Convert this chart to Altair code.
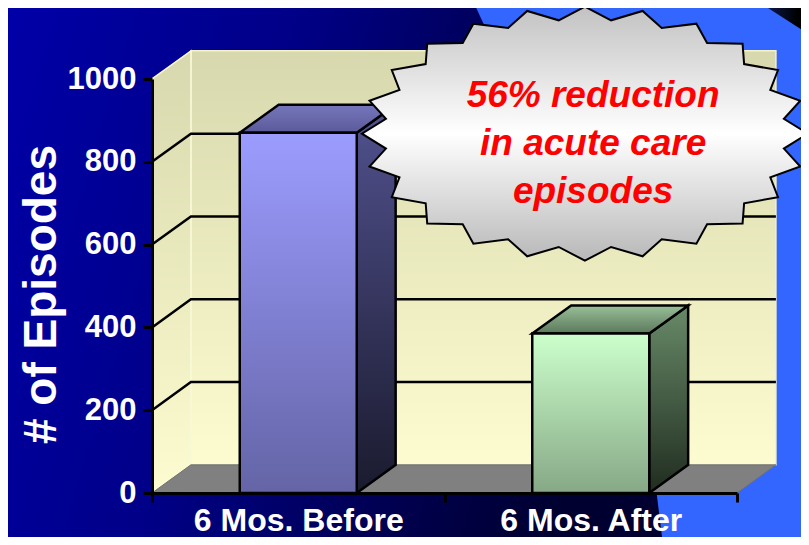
import math
import altair as alt
import pandas as pd

# ---------------- data ----------------
categories = ["6 Mos. Before", "6 Mos. After"]
episodes = [870, 385]
y_ticks = [0, 200, 400, 600, 800, 1000]
grid_values = [200, 400, 600, 800]
callout_lines = ["56% reduction", "in acute care", "episodes"]

# ---------------- geometry (data units) ----------------
X_MAX = 2.0          # two category slots on a 0..2 axis
Y_MAX = 1000
DX = 0.133           # 3-D depth along x (category units)
DY = 68              # 3-D depth along y (value units)
HALF = 0.2           # half bar width
centers = [i + 0.5 for i in range(len(categories))]

FONT = "Liberation Sans"
xs = alt.Scale(domain=[0, X_MAX], nice=False, zero=False)
ys = alt.Scale(domain=[0, Y_MAX], nice=False, zero=True)

label_expr = " : ".join(
    f"datum.value == {c} ? '{n}'" for c, n in zip(centers, categories)
) + " : ''"
hide_test = " || ".join(f"datum.value == {c}" for c in centers)

x_axis = alt.Axis(
    values=[0] + centers + [1, 2],
    labelExpr=label_expr, title=None, grid=False,
    labelColor="white", labelFont=FONT, labelFontSize=32, labelFontWeight="bold",
    labelBaseline="alphabetic", labelPadding=28, labelFlush=False, labelOverlap=False,
    labelLimit=0,
    tickSize=9, tickWidth=3, tickColor="black",
    tickOpacity={"condition": {"test": hide_test, "value": 0}, "value": 1},
    domainColor="black", domainWidth=3, zindex=1,
)
y_axis = alt.Axis(
    values=y_ticks, format="d", title="# of Episodes", grid=False,
    titleColor="white", titleFont=FONT, titleFontSize=46, titleFontWeight="bold",
    titleAngle=270, titleX=-97, titleY=215, titleBaseline="alphabetic", titleAlign="center",
    titleLimit=0,
    labelColor="white", labelFont=FONT, labelFontSize=31, labelFontWeight="bold",
    labelPadding=7, labelFlush=False, labelOverlap=False, labelLimit=0,
    tickSize=9, tickWidth=3, tickColor="black",
    domainColor="black", domainWidth=3, zindex=1,
)


def X(f="x"):
    return alt.X(f, type="quantitative", scale=xs, axis=x_axis)


def Y(f="y"):
    return alt.Y(f, type="quantitative", scale=ys, axis=y_axis)


def grad(c1, c2):
    stops = [alt.GradientStop(color=c1, offset=0), alt.GradientStop(color=c2, offset=1)]
    return alt.LinearGradient(gradient="linear", stops=stops, x1=0, x2=0, y1=0, y2=1)


layers = []

# ---------------- slide background ----------------
bg = alt.Chart(pd.DataFrame({"a": [0]})).mark_rect(
    fill=alt.LinearGradient(gradient="linear", x1=0, y1=0, x2=1, y2=0.2, stops=[
        alt.GradientStop(color="#0000a8", offset=0),
        alt.GradientStop(color="#000088", offset=0.35),
        alt.GradientStop(color="#000050", offset=0.65),
        alt.GradientStop(color="#000030", offset=0.85),
    ])
).encode(x=alt.value(-144), x2=alt.value(649), y=alt.value(-71), y2=alt.value(458))
layers.append(bg)

band = pd.DataFrame({
    "y": [1215, 1075, -5, -170],
    "x": [1.080, 1.172, 1.726, 1.755],
    "x2": [2.4, 2.4, 2.4, 2.4],
})
layers.append(alt.Chart(band).mark_area(orient="horizontal", fill="#3366ff")
              .encode(y=Y(), x=X(), x2="x2"))

corner = pd.DataFrame({"y": [1215, 1088], "x": [2.010, 2.290], "x2": [2.45, 2.45]})
layers.append(alt.Chart(corner).mark_area(
    orient="horizontal",
    fill=alt.LinearGradient(gradient="linear", x1=0, x2=1, y1=0, y2=0, stops=[
        alt.GradientStop(color="#3366ff", offset=0),
        alt.GradientStop(color="#0a1440", offset=0.25),
        alt.GradientStop(color="#000000", offset=0.45),
        alt.GradientStop(color="#000000", offset=1),
    ])).encode(y=Y(), x=X(), x2="x2"))

# ---------------- walls & floor ----------------
back_wall = pd.DataFrame({"x": [DX], "x2": [X_MAX + DX], "y": [DY], "y2": [Y_MAX + DY]})
layers.append(alt.Chart(back_wall).mark_rect(
    fill=grad("#d8d8ae", "#fdfcd0"), stroke="#f4f2c8", strokeWidth=1.5
).encode(x=X(), x2="x2", y=Y(), y2="y2"))

left_wall = pd.DataFrame({"x": [0, DX], "y": [0, DY], "y2": [Y_MAX, Y_MAX + DY]})
layers.append(alt.Chart(left_wall).mark_area(
    orient="vertical", fill=grad("#d8d8ae", "#fdfcd0"), stroke="#fbfad8", strokeWidth=1.5
).encode(x=X(), y=Y(), y2="y2"))

floor = pd.DataFrame({"y": [0, DY], "x": [0, DX], "x2": [X_MAX, X_MAX + DX]})
layers.append(alt.Chart(floor).mark_area(
    orient="horizontal", fill="#808080", stroke="#707070", strokeWidth=1
).encode(y=Y(), x=X(), x2="x2"))

# ---------------- gridlines on walls ----------------
rows = []
for v in grid_values:
    rows += [
        {"g": v, "o": 0, "x": 0, "y": v},
        {"g": v, "o": 1, "x": DX, "y": v + DY},
        {"g": v, "o": 2, "x": X_MAX + DX, "y": v + DY},
    ]
layers.append(alt.Chart(pd.DataFrame(rows)).mark_line(color="black", strokeWidth=2.5)
              .encode(x=X(), y=Y(), detail="g:N", order="o:Q"))

# ---------------- 3-D bars ----------------
styles = [
    {"front": ("#9c9cff", "#6464a6"), "side": ("#525290", "#1a1a2e"), "top": ("#7676bc", "#5a5a9a")},
    {"front": ("#ccffcc", "#86a886"), "side": ("#688a68", "#202c20"), "top": ("#98c098", "#5c785c")},
]
for c, v, st in zip(centers, episodes, styles):
    side = pd.DataFrame({"x": [c + HALF, c + HALF + DX], "y": [0, DY], "y2": [v, v + DY]})
    layers.append(alt.Chart(side).mark_area(
        orient="vertical", fill=grad(*st["side"]), stroke="black", strokeWidth=2.5,
        strokeJoin="miter").encode(x=X(), y=Y(), y2="y2"))
    top = pd.DataFrame({"y": [v, v + DY], "x": [c - HALF, c - HALF + DX],
                        "x2": [c + HALF, c + HALF + DX]})
    layers.append(alt.Chart(top).mark_area(
        orient="horizontal", fill=grad(*st["top"]), stroke="black",
        strokeWidth=2.5, strokeJoin="miter").encode(y=Y(), x=X(), x2="x2"))
    front = pd.DataFrame({"x": [c - HALF], "x2": [c + HALF], "y": [0], "y2": [v]})
    layers.append(alt.Chart(front).mark_rect(
        fill=grad(*st["front"]), stroke="black", strokeWidth=2.5, strokeJoin="miter"
    ).encode(x=X(), x2="x2", y=Y(), y2="y2"))

# ---------------- starburst callout ----------------
N = 24
RATIO = 0.9
ASPECT = 127 / 223
pts = []
for k in range(2 * N):
    a = math.pi / 2 + k * math.pi / N
    r = 1.0 if k % 2 == 0 else RATIO
    pts.append((r * math.cos(a), -r * ASPECT * math.sin(a)))
star_path = "M" + " L".join(f"{px:.4f},{py:.4f}" for px, py in pts) + " Z"

callout = pd.DataFrame({"x": [1.48], "y": [868]})
layers.append(alt.Chart(callout).mark_point(
    shape=star_path, size=446 * 446, filled=True, opacity=1,
    fill=alt.LinearGradient(gradient="linear", x1=0, x2=0, y1=0, y2=1, stops=[
        alt.GradientStop(color="#c2c2c2", offset=0),
        alt.GradientStop(color="#ffffff", offset=0.5),
        alt.GradientStop(color="#b8b8b8", offset=1),
    ]),
    stroke="black", strokeWidth=2,
).encode(x=X(), y=Y()))

text_df = pd.DataFrame({"x": [1.508], "y": [932], "t": ["\n".join(callout_lines)]})
layers.append(alt.Chart(text_df).mark_text(
    font=FONT, fontSize=37, fontWeight="bold", fontStyle="italic", color="#ff0000",
    align="center", baseline="alphabetic", lineBreak="\n", lineHeight=48,
).encode(x=X(), y=Y(), text="t:N"))

chart = alt.layer(*layers).properties(
    width=585, height=414,
    padding={"left": 144, "top": 71, "right": 64, "bottom": 44},
    autosize=alt.AutoSizeParams(type="none"),
    background="#00008c",
).configure_view(stroke=None)

chart.save("out.html", embed_options={"renderer": "svg", "actions": False})
